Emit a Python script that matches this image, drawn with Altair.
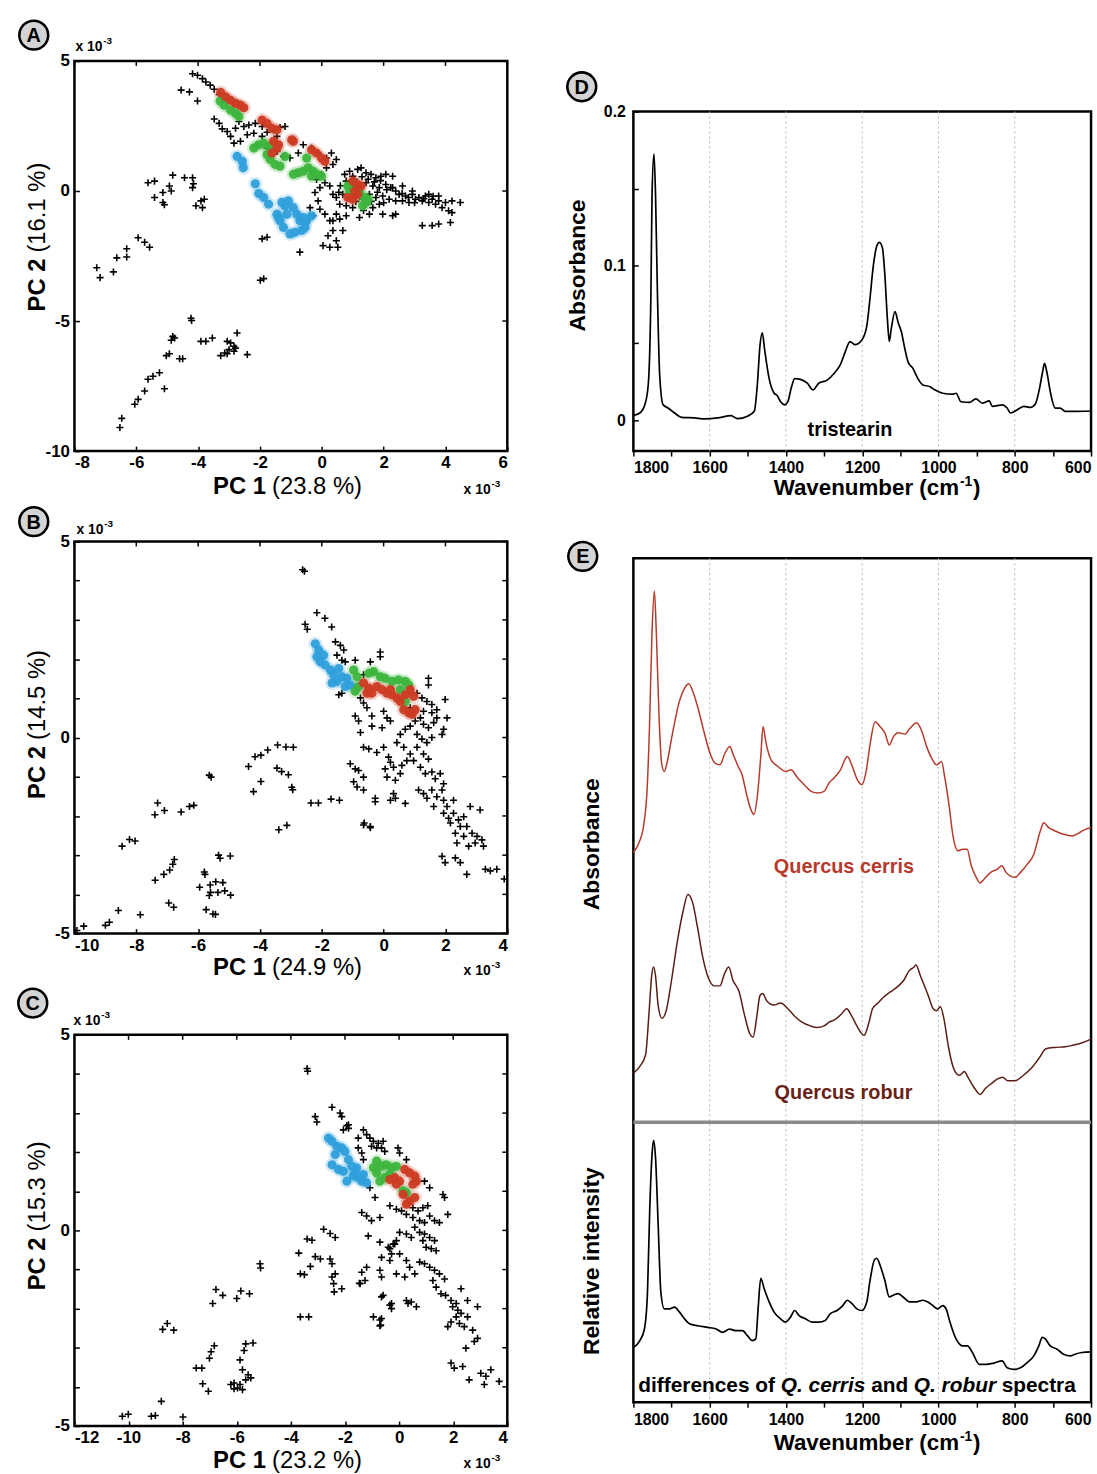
import altair as alt
import pandas as pd

FONT = "Liberation Sans"
RED, GREEN, BLUE = "#cc3b22", "#3cb53c", "#2e9fdb"
CERRIS_COL, ROBUR_COL = "#b53a2c", "#5a1d14"
CROSS = "M-1,0L1,0M0,-1L0,1"

# ---------------- Panel A (PC1 23.8 %, PC2 16.1 %) ----------------
A_BLACK = [
    [-4.18, 4.51], [-4.02, 4.45], [-3.86, 4.32], [-3.75, 4.19], [-3.61, 4.07], [-3.48, 3.91], [-3.32, 3.71],
    [-4.55, 3.88], [-4.28, 3.81], [-4.02, 3.46], [-3.48, 2.77], [-3.32, 2.60], [-3.22, 2.39], [-3.06, 2.29],
    [-2.95, 2.10], [-2.79, 2.41], [-2.68, 2.67], [-2.52, 2.48], [-2.36, 2.54], [-2.15, 2.60], [-1.93, 2.48],
    [-1.77, 2.26], [-1.56, 2.35], [-1.35, 2.44], [-1.19, 2.48], [-1.45, 2.10], [-1.93, 2.10], [-2.20, 2.22],
    [-2.41, 2.16], [-2.84, 1.84], [-2.63, 1.91], [-2.09, 1.78], [-1.77, 1.65], [-1.45, 1.52], [-1.24, 1.33],
    [-1.03, 1.27], [-0.76, 1.46], [-0.60, 1.78], [-0.33, 1.65], [-0.12, 1.46], [0.15, 1.27], [0.31, 1.46],
    [0.47, 1.21], [0.36, 1.02], [0.15, 0.89], [-0.01, 0.64], [-0.17, 0.44], [0.10, 0.32], [0.26, 0.19],
    [-0.06, 0.13], [-0.22, -0.06], [0.36, -0.13],
    [0.74, 0.64], [0.90, 0.76], [1.00, 0.57], [1.16, 0.83], [1.27, 0.89], [1.43, 0.70], [1.59, 0.64],
    [1.75, 0.51], [1.91, 0.57], [2.07, 0.64], [2.29, 0.57], [0.79, 0.38], [1.00, 0.25], [1.22, 0.13],
    [1.43, 0.32], [1.65, 0.19], [1.86, 0.13], [2.07, 0.25], [2.23, 0.13], [2.39, 0.00], [0.68, -0.13],
    [0.90, -0.25], [1.11, -0.13], [1.32, -0.32], [1.54, -0.13], [1.75, -0.25], [1.97, -0.19], [2.18, -0.32],
    [2.39, -0.38], [0.47, -0.25], [0.58, -0.51], [0.79, -0.57], [1.00, -0.64], [1.43, -0.51], [1.65, -0.64],
    [1.86, -0.51], [0.47, -0.89], [0.36, -1.14], [0.58, -1.08], [0.79, -0.95], [1.22, -1.02], [1.54, -0.89],
    [1.97, -0.89], [2.29, -0.95], [1.05, 0.45], [1.30, 0.55], [1.50, 0.45], [1.70, 0.35], [1.90, 0.40],
    [2.10, 0.05], [1.20, -0.05], [0.95, 0.10], [1.60, -0.40], [1.80, -0.05], [2.00, -0.45], [0.60, 0.20],
    [0.55, -0.05], [1.35, -0.75], [1.10, -0.40],
    [2.50, -0.13], [2.71, -0.19], [2.93, -0.13], [3.14, -0.25], [3.35, -0.19], [3.57, -0.32], [3.78, -0.38],
    [4.00, -0.44], [4.21, -0.38], [2.61, -0.38], [2.82, -0.44], [3.03, -0.32], [3.25, -0.38], [3.46, -0.44],
    [3.68, -0.51], [3.89, -0.64], [4.10, -0.76], [4.48, -0.44], [2.39, -0.89], [3.25, -1.33], [3.57, -1.33],
    [3.78, -1.27], [4.16, -1.21], [4.21, -0.83], [2.93, 0.00], [3.46, -0.13], [3.78, -0.19], [2.29, 0.13],
    [2.61, 0.19], [2.60, -0.10], [2.80, -0.25], [3.00, -0.45], [3.30, -0.30], [3.60, -0.20],
    [-0.06, -0.70], [0.10, -0.89], [0.26, -1.14], [0.36, -1.52], [0.20, -1.72], [0.47, -1.91], [0.68, -1.52],
    [0.04, -2.10], [0.26, -2.16], [0.52, -2.16], [-0.71, -1.02], [-0.49, -1.14], [-0.28, -0.95], [-0.38, -0.64],
    [-0.12, -0.38], [-1.77, -1.78], [-1.93, -1.84], [-0.71, -2.35], [-1.99, -3.43], [-1.88, -3.37],
    [-5.62, 0.32], [-5.41, 0.38], [-4.82, 0.61], [-4.93, 0.19], [-5.14, -0.06], [-4.87, 0.00], [-4.44, 0.51],
    [-4.18, 0.51], [-4.18, 0.13], [-4.15, 0.28], [-5.41, -0.25], [-5.14, -0.44], [-5.09, -0.53], [-3.80, -0.32],
    [-4.07, -0.57], [-3.86, -0.64], [-3.91, -0.38],
    [-5.94, -1.80], [-5.73, -1.97], [-5.57, -2.16], [-6.31, -2.22], [-6.31, -2.54], [-6.63, -2.57],
    [-7.28, -2.95], [-7.17, -3.33], [-6.74, -3.11],
    [-4.23, -4.89], [-4.21, -4.98], [-4.82, -5.59], [-4.87, -5.74], [-4.76, -5.65], [-3.91, -5.78],
    [-3.75, -5.78], [-3.54, -5.65], [-3.06, -5.78], [-2.95, -5.84], [-2.84, -5.97], [-2.74, -5.46],
    [-2.79, -6.04], [-3.00, -6.10], [-3.14, -6.23], [-3.27, -6.33], [-3.06, -6.26], [-2.84, -6.16],
    [-2.41, -6.29], [-5.03, -6.33], [-4.93, -6.26], [-4.60, -6.45], [-4.50, -6.45], [-5.25, -6.99],
    [-5.46, -7.12], [-5.62, -7.24], [-5.73, -7.69], [-5.09, -7.60], [-5.94, -8.01], [-6.05, -8.20],
    [-6.47, -8.74], [-6.53, -9.09],
]
A_RED = [
    [-3.27, 3.79], [-3.11, 3.62], [-2.95, 3.49], [-2.79, 3.37], [-2.63, 3.30], [-2.52, 3.20], [-1.93, 2.73],
    [-1.77, 2.60], [-1.61, 2.41], [-1.45, 2.35], [-1.56, 1.91], [-1.45, 1.65], [-1.61, 1.46], [-1.40, 1.78],
    [-0.97, 1.97], [-0.92, 1.91], [-0.33, 1.59], [-0.17, 1.46], [-0.01, 1.27], [0.10, 1.14], [1.00, 0.38],
    [1.16, 0.25], [1.27, 0.19], [0.84, -0.25], [1.00, -0.32], [1.16, -0.13], [1.06, 0.00],
]
A_GREEN = [
    [-3.29, 3.46], [-3.16, 3.30], [-2.95, 3.11], [-2.79, 2.99], [-2.68, 2.86], [-2.20, 1.65], [-2.04, 1.78],
    [-1.88, 1.84], [-1.72, 1.72], [-1.77, 1.40], [-1.67, 1.21], [-1.51, 1.02], [-1.35, 0.95], [-1.19, 1.33],
    [-0.92, 0.64], [-0.76, 0.70], [-0.60, 0.76], [-0.44, 0.89], [-0.28, 0.76], [-0.17, 0.64], [-0.01, 0.57],
    [-0.49, 1.27], [-0.33, 0.57], [0.84, 0.19], [1.00, 0.06], [1.22, -0.06], [1.38, -0.25], [1.43, -0.44],
    [1.32, -0.57], [1.49, -0.32], [0.90, -0.06],
]
A_BLUE = [
    [-2.74, 1.33], [-2.57, 1.14], [-2.54, 0.89], [-2.15, 0.28], [-2.04, -0.10], [-1.88, -0.25], [-1.72, -0.51],
    [-1.45, -0.89], [-1.29, -0.44], [-1.19, -0.57], [-1.08, -0.38], [-0.92, -0.64], [-1.13, -0.89],
    [-1.40, -1.02], [-1.35, -1.14], [-1.24, -1.40], [-1.03, -1.65], [-0.87, -1.59], [-0.65, -1.52],
    [-0.54, -1.40], [-0.49, -1.14], [-0.33, -0.95], [-0.71, -1.14], [-0.81, -0.89], [-0.60, -1.02],
]

# ---------------- Panel B (PC1 24.9 %, PC2 14.5 %) ----------------
B_BLACK = [
    [-2.62, 4.28], [-2.56, 4.24], [-2.16, 3.18], [-1.90, 3.04], [-1.68, 2.82], [-2.54, 2.89], [-2.47, 2.76],
    [-3.43, -0.19], [-3.16, -0.24], [-2.92, -0.25], [-3.75, -0.32], [-3.97, -0.45], [-4.16, -0.49],
    [-4.37, -0.74], [-3.45, -0.78], [-3.30, -0.87], [-3.08, -0.95], [-3.97, -1.12], [-4.21, -1.38],
    [-2.97, -1.27], [-2.94, -1.33], [-5.64, -0.96], [-5.58, -1.01], [-2.35, -1.67], [-2.11, -1.67],
    [-1.70, -1.57], [-1.43, -1.60], [-3.39, -2.35], [-3.13, -2.24], [-0.63, -2.18], [-0.43, -2.30],
    [-7.31, -1.67], [-7.40, -1.97], [-7.09, -1.86], [-6.55, -1.90], [-6.28, -1.76], [-6.14, -1.73],
    [-8.22, -2.60], [-8.46, -2.77], [-8.04, -2.64], [-7.39, -3.64], [-7.11, -3.49], [-6.92, -3.38],
    [-6.82, -3.23], [-6.77, -3.11], [-5.34, -3.00], [-5.29, -3.08], [-4.96, -3.02], [-5.80, -3.43],
    [-5.78, -3.49], [-5.95, -3.82], [-5.61, -3.76], [-5.43, -3.68], [-5.20, -3.70], [-5.60, -3.95],
    [-5.64, -4.03], [-5.36, -3.95], [-5.14, -3.91], [-4.95, -4.02], [-5.74, -4.39], [-5.52, -4.50],
    [-5.44, -4.51], [-6.95, -4.22], [-6.79, -4.33], [-8.58, -4.41], [-7.87, -4.52], [-9.00, -4.79],
    [-8.87, -4.71], [-9.70, -4.81], [-9.92, -4.92],
    [-1.56, 2.44], [-1.40, 2.35], [-1.29, 2.23], [-1.51, 2.10], [-1.35, 1.97], [-1.24, 1.93], [-0.92, 1.97],
    [-0.43, 1.93], [-0.11, 2.18], [-0.11, 2.06], [-0.38, 1.68], [-0.65, 1.60], [-1.45, 1.09], [-1.35, 1.13],
    [-0.75, 1.01], [-0.65, 0.88], [-0.54, 0.76], [-0.92, 0.55], [-0.81, 0.42], [-0.75, 0.13], [-0.38, 0.55],
    [-0.38, 0.29], [0.00, 0.67], [0.11, 0.50], [0.22, 0.42], [-0.05, 0.25], [1.45, 1.51], [1.45, 1.34],
    [1.08, 1.13], [1.24, 1.01], [1.40, 0.92], [1.56, 0.84], [1.72, 0.71], [1.99, 0.97], [2.05, 0.50],
    [1.94, 0.21], [1.89, 0.08], [0.54, 0.08], [0.70, 0.21], [0.86, 0.29], [1.02, 0.42], [1.19, 0.50],
    [1.29, 0.34], [1.45, 0.25], [1.62, 0.38], [1.08, 0.08], [1.24, -0.04], [1.40, -0.13], [1.56, 0.00],
    [0.43, -0.13], [0.65, -0.25], [0.86, -0.42], [1.08, -0.25], [1.29, -0.42], [1.45, -0.55], [0.97, -0.59],
    [1.19, -0.76], [1.35, -0.92], [1.56, -0.88], [1.67, -1.05], [1.83, -0.92], [1.94, -1.18], [1.89, -1.34],
    [-0.65, -0.25], [-0.48, -0.29], [-0.22, -0.38], [0.00, -0.25], [0.16, -0.50], [0.22, -0.63],
    [0.32, -0.76], [0.05, -0.80], [0.11, -1.01], [0.38, -1.09], [0.54, -0.92], [0.59, -0.71], [0.75, -0.59],
    [0.32, -1.43], [0.38, -1.55], [0.22, -1.60], [0.70, -1.68], [-1.08, -0.67], [-0.92, -0.80],
    [-0.81, -0.84], [-0.65, -1.01], [-0.97, -1.13], [-0.86, -1.26], [-0.65, -1.34], [-0.27, -1.55],
    [-0.27, -1.64], [-0.65, -2.23], [-0.43, -2.27], [1.13, -1.34], [1.29, -1.43], [1.56, -1.34],
    [1.40, -1.55], [1.62, -1.76], [1.72, -1.51], [1.94, -1.60], [2.05, -1.76], [2.26, -1.60], [1.94, -1.93],
    [2.10, -2.06], [2.26, -1.93], [2.42, -2.10], [2.59, -2.02], [2.48, -2.27], [2.69, -2.27], [2.80, -1.76],
    [3.12, -1.85], [2.86, -2.44], [3.02, -2.52], [3.18, -2.61], [3.23, -2.77], [2.96, -2.69], [2.37, -2.69],
    [1.89, -3.03], [1.99, -3.19], [2.32, -3.07], [2.48, -3.19], [2.69, -3.49], [3.29, -3.36], [3.45, -3.40],
    [3.66, -3.36], [3.90, -3.61], [2.16, -2.18], [2.32, -2.44], [2.59, -2.52], [2.75, -2.77], [0.97, 0.63],
    [0.86, 0.76], [1.29, 0.67], [1.56, 0.63], [1.72, 0.50],
]
B_RED = [
    [-0.65, 1.39], [-0.48, 1.26], [-0.38, 1.13], [-0.22, 1.30], [-0.05, 1.22], [0.11, 1.13], [0.27, 1.09],
    [0.43, 1.01], [0.54, 0.92], [0.70, 1.09], [0.86, 1.22], [0.97, 1.05], [0.65, 0.71], [0.81, 0.63],
    [1.02, 0.71], [0.92, 0.59], [-0.54, 1.13], [0.22, 1.22],
]
B_GREEN = [
    [-0.97, 1.72], [-0.86, 1.55], [-0.92, 1.18], [-0.81, 1.30], [-0.48, 1.64], [-0.32, 1.68], [-0.11, 1.55],
    [0.05, 1.51], [0.27, 1.43], [0.48, 1.47], [0.70, 1.43], [0.81, 1.34], [0.70, 0.92], [0.54, 1.22],
]
B_BLUE = [
    [-2.21, 2.39], [-2.10, 2.23], [-2.16, 2.06], [-2.05, 1.93], [-1.89, 1.85], [-1.72, 1.72], [-1.62, 1.60],
    [-1.45, 1.76], [-1.35, 1.55], [-1.51, 1.43], [-1.67, 1.39], [-1.19, 1.51], [-1.08, 1.34], [-1.24, 1.30],
    [-1.94, 2.10],
]

# ---------------- Panel C (PC1 23.2 %, PC2 15.3 %) ----------------
C_BLACK = [
    [-3.40, 4.14], [-3.38, 4.07], [-2.48, 3.15], [-2.18, 3.00], [-2.12, 2.91], [-3.10, 2.91], [-3.04, 2.77],
    [-1.87, 2.61], [-1.93, 2.68], [-2.79, 0.03], [-2.55, -0.08], [-2.36, -0.18], [-3.22, -0.25],
    [-3.40, -0.22], [-3.71, -0.58], [-3.10, -0.67], [-2.91, -0.73], [-3.28, -0.92], [-2.55, -0.73],
    [-2.48, -0.85], [-2.36, -1.11], [-2.48, -1.19], [-2.42, -1.36], [-2.12, -1.49], [-2.40, -1.57],
    [-3.65, -1.11], [-3.50, -1.13], [-5.14, -0.85], [-5.12, -0.96], [-3.65, -2.21], [-3.34, -2.21],
    [-1.20, -0.94], [-1.38, -1.07], [-1.47, -1.35], [-1.26, -1.28], [-0.71, -1.02], [-0.65, -1.19],
    [-0.59, -1.66], [-0.28, -1.87], [-0.95, -2.21], [-0.65, -2.25], [-0.68, -2.42], [-6.77, -1.51],
    [-6.52, -1.66], [-6.89, -1.87], [-5.85, -1.55], [-5.53, -1.62], [-6.00, -1.74], [-8.57, -2.38],
    [-8.74, -2.53], [-8.33, -2.55], [-5.67, -2.90], [-5.73, -3.07], [-5.40, -2.88], [-6.83, -2.95],
    [-6.95, -3.10], [-7.01, -3.27], [-7.50, -3.52], [-7.29, -3.52], [-7.26, -3.92], [-7.05, -4.11],
    [-5.88, -3.31], [-5.79, -3.56], [-5.58, -3.69], [-5.67, -3.82], [-5.48, -3.77], [-6.10, -3.90],
    [-5.97, -4.03], [-5.88, -3.94], [-5.79, -4.07], [-6.10, -4.05], [-6.22, -3.94], [-8.79, -4.37],
    [-7.99, -4.77], [-9.16, -4.75], [-9.01, -4.73], [-10.23, -4.75], [-10.01, -4.70],
    [-2.06, 2.57], [-1.87, 2.70], [-1.51, 2.36], [-1.32, 2.57], [-1.20, 2.45], [-1.08, 2.36], [-0.95, 2.28],
    [-0.77, 2.23], [-0.59, 2.28], [-1.02, 2.15], [-0.83, 2.11], [-0.65, 2.11], [-0.53, 2.02], [-1.51, 2.11],
    [-1.38, 1.98], [-0.04, 2.11], [0.02, 1.98], [0.27, 1.81], [-1.32, 1.81], [-1.08, 1.09], [-0.89, 0.84],
    [-1.38, 0.46], [-1.20, 0.37], [-1.02, 0.25], [-0.71, 0.33], [-0.34, 0.63], [-0.10, 0.54], [0.09, 0.50],
    [0.27, 0.41], [0.51, 0.58], [0.70, 0.50], [0.88, 0.58], [1.06, 0.63], [0.94, 1.26], [1.13, 1.09],
    [1.62, 0.92], [1.80, 0.41], [0.51, 0.33], [0.76, 0.25], [0.94, 0.20], [1.13, 0.37], [1.31, 0.25],
    [1.49, 0.20], [0.58, 0.08], [0.76, -0.05], [0.94, -0.09], [1.13, -0.18], [1.31, -0.26], [0.88, -0.26],
    [1.00, -0.43], [1.19, -0.47], [1.37, -0.52], [0.45, -0.18], [0.27, -0.09], [0.02, -0.05], [-0.10, -0.26],
    [-0.22, -0.35], [-0.34, -0.47], [0.02, -0.60], [0.27, -0.77], [0.39, -0.94], [0.58, -1.11], [0.76, -0.81],
    [0.94, -0.85], [1.13, -0.94], [1.31, -1.02], [1.49, -1.11], [1.68, -1.24], [1.25, -1.28], [1.37, -1.45],
    [1.55, -1.62], [1.72, -1.66], [1.92, -1.79], [2.11, -1.87], [1.98, -1.95], [2.17, -2.04], [2.29, -2.12],
    [2.11, -2.21], [1.92, -2.34], [1.80, -2.46], [2.23, -2.38], [2.41, -2.46], [2.53, -2.21], [2.72, -2.55],
    [2.90, -2.76], [2.78, -2.84], [2.47, -3.01], [2.53, -1.79], [2.90, -1.95], [2.29, -1.49], [1.92, -3.39],
    [2.04, -3.52], [2.35, -3.48], [2.59, -3.82], [3.02, -3.65], [3.21, -3.73], [3.15, -3.94], [3.39, -3.56],
    [3.70, -3.86], [1.68, 0.84], [-0.71, -0.30], [-0.40, -0.43], [-0.28, -0.60], [-0.16, -0.35],
    [-0.65, -0.69], [-0.34, -0.77], [-0.10, -1.11], [0.21, -1.19], [0.27, -1.79], [0.45, -1.83],
    [0.64, -1.95], [0.33, -1.87], [-0.65, -1.70], [-0.34, -1.91], [-0.28, -2.00], [-0.71, -2.29],
    [-0.71, -2.44], [-1.14, -0.14], [-1.44, -1.36],
]
C_RED = [
    [0.21, 1.56], [0.39, 1.47], [0.58, 1.39], [0.64, 1.26], [0.51, 1.18], [0.02, 1.26], [-0.16, 1.35],
    [-0.10, 1.18], [-0.34, 1.30], [0.15, 0.92], [0.39, 0.75], [0.58, 0.84], [0.27, 0.67],
]
C_GREEN = [
    [-0.83, 1.77], [-0.65, 1.64], [-0.47, 1.68], [-0.28, 1.60], [-0.10, 1.64], [-0.83, 1.47], [-0.71, 1.26],
    [-0.53, 1.35], [-0.34, 1.43], [-0.95, 1.60], [0.15, 1.01], [0.27, 0.96],
]
C_BLUE = [
    [-2.61, 2.36], [-2.48, 2.28], [-2.30, 2.15], [-2.12, 2.11], [-2.00, 2.02], [-2.36, 1.94], [-2.48, 1.68],
    [-2.24, 1.56], [-2.06, 1.51], [-1.87, 1.81], [-1.75, 1.64], [-1.63, 1.47], [-1.51, 1.35], [-1.69, 1.39],
    [-1.32, 1.43], [-1.20, 1.22], [-1.38, 1.26], [-1.93, 1.26], [-1.57, 1.60],
]

# ---------------- Panel D: tristearin spectrum (wavenumber, absorbance) ----------------
D_SPEC = [
    (1800, 0.0032), (1783, 0.0047), (1770, 0.010), (1761, 0.023), (1754, 0.083), (1751, 0.147),
    (1746, 0.1726), (1742, 0.147), (1737, 0.083), (1731, 0.029), (1722, 0.010), (1709, 0.0079),
    (1692, 0.0047), (1674, 0.0019), (1640, 0.0015), (1613, 0.0009), (1579, 0.0015), (1544, 0.003),
    (1527, 0.001), (1501, 0.0026), (1483, 0.0058), (1475, 0.023), (1468, 0.0486), (1462, 0.0567),
    (1456, 0.046), (1444, 0.027), (1431, 0.0175), (1423, 0.016), (1414, 0.012), (1403, 0.010),
    (1395, 0.012), (1386, 0.021), (1377, 0.027), (1362, 0.0265), (1344, 0.024), (1329, 0.0197),
    (1314, 0.024), (1292, 0.026), (1275, 0.030), (1258, 0.0357), (1245, 0.044), (1232, 0.051),
    (1219, 0.049), (1201, 0.052), (1188, 0.061), (1180, 0.078), (1171, 0.0999), (1162, 0.1127),
    (1155, 0.1153), (1147, 0.1117), (1141, 0.0956), (1134, 0.0657), (1129, 0.0511), (1124, 0.059),
    (1114, 0.0704), (1106, 0.0635), (1097, 0.057), (1088, 0.046), (1080, 0.038), (1067, 0.0336),
    (1054, 0.027), (1041, 0.0229), (1023, 0.0218), (1010, 0.0197), (989, 0.0175), (963, 0.0169),
    (954, 0.0175), (941, 0.012), (919, 0.0116), (902, 0.0139), (885, 0.011), (867, 0.0126), (859, 0.009),
    (832, 0.010), (820, 0.0079), (811, 0.0047), (789, 0.0075), (776, 0.009), (759, 0.0083), (746, 0.0105),
    (735, 0.0207), (727, 0.0314), (722, 0.0368), (716, 0.0314), (707, 0.0186), (694, 0.0079),
    (681, 0.0079), (668, 0.0058), (642, 0.0058), (600, 0.006),
]

# ---------------- Panel E: spectra in arbitrary units ----------------
E_CERRIS = [
    (1800, 81.5), (1785, 84.5), (1772, 90.5), (1764, 100.5), (1758, 118.5), (1751, 148.5), (1745, 160.5),
    (1740, 148.5), (1733, 123.5), (1726, 108.5), (1719, 106), (1712, 108.5), (1699, 116.5), (1681, 126.5),
    (1664, 131.5), (1655, 132.5), (1642, 129.5), (1629, 124.5), (1616, 118.5), (1599, 111.5), (1586, 108.5),
    (1573, 108), (1560, 111.5), (1547, 113.5), (1538, 111), (1525, 107.5), (1515, 105), (1504, 99.5),
    (1492, 94.5), (1484, 93), (1475, 98.5), (1466, 110.5), (1460, 119.5), (1452, 114.5), (1439, 109.5),
    (1421, 107.5), (1400, 106), (1387, 106.5), (1369, 104), (1352, 102), (1334, 100), (1317, 99.5),
    (1300, 100), (1287, 102.5), (1274, 104), (1257, 106.5), (1239, 110.5), (1226, 107.5), (1213, 103.5),
    (1201, 102), (1189, 106.5), (1179, 114.5), (1166, 121), (1153, 119.5), (1140, 117.5), (1129, 114),
    (1118, 116.5), (1105, 117.7), (1088, 117.3), (1075, 119), (1057, 120.7), (1045, 118.5), (1031, 113.5),
    (1018, 110), (1005, 108), (992, 109), (984, 104.5), (972, 95.5), (962, 86.5), (949, 82), (936, 82.5),
    (925, 82.5), (914, 77.5), (901, 74), (891, 72.3), (880, 73.5), (863, 75.5), (845, 76.5), (834, 77.5),
    (823, 75.5), (810, 74.3), (799, 74), (785, 75.5), (767, 78), (750, 81), (733, 88), (724, 90.5),
    (711, 89), (694, 88), (672, 87), (650, 86.5), (633, 87.3), (615, 88.5), (600, 89),
]
E_ROBUR = [
    (1800, 14.8), (1783, 16.9), (1768, 20.4), (1759, 33.0), (1752, 44.3), (1747, 46.9), (1742, 44.3),
    (1735, 35.2), (1725, 31.4), (1714, 33.7), (1700, 42.9), (1685, 54.4), (1670, 63.6), (1657, 68.8),
    (1645, 66.5), (1632, 59.0), (1618, 49.8), (1605, 44.1), (1588, 41.2), (1573, 41.2), (1562, 44.6),
    (1550, 46.9), (1539, 42.9), (1523, 39.5), (1509, 32.6), (1495, 26.8), (1486, 25.7), (1477, 31.4),
    (1468, 38.3), (1461, 38.9), (1450, 36.6), (1432, 35.4), (1414, 36.0), (1395, 34.3), (1377, 32.0),
    (1359, 30.3), (1336, 29.1), (1318, 28.6), (1300, 29.1), (1286, 30.3), (1273, 30.9), (1255, 32.6),
    (1241, 34.3), (1227, 32.0), (1214, 29.1), (1195, 26.3), (1182, 30.3), (1173, 34.3), (1159, 36.0),
    (1145, 37.7), (1132, 38.9), (1118, 40.0), (1105, 41.2), (1091, 42.9), (1077, 45.8), (1064, 46.9),
    (1059, 47.5), (1047, 44.1), (1027, 38.3), (1014, 34.3), (1005, 33.7), (995, 34.9), (986, 31.4),
    (973, 22.2), (959, 15.9), (945, 14.2), (932, 15.3), (923, 13.6), (905, 10.2), (891, 8.4), (877, 10.2),
    (859, 11.9), (845, 13.1), (832, 13.6), (818, 12.5), (800, 12.5), (777, 14.2), (755, 16.5), (736, 19.4),
    (718, 22.2), (695, 22.6), (668, 22.8), (650, 23.2), (623, 24.0), (600, 25.1),
]
E_DIFF = [
    (1800, 16.5), (1783, 18.6), (1771, 22.1), (1763, 33.3), (1757, 58.7), (1751, 75.0), (1747, 79.1),
    (1742, 74.0), (1735, 53.6), (1728, 33.3), (1719, 28.2), (1705, 28.2), (1692, 28.7), (1679, 27.2),
    (1666, 25.2), (1653, 23.7), (1631, 23.1), (1605, 22.6), (1583, 22.1), (1566, 21.1), (1548, 22.1),
    (1531, 21.6), (1514, 21.6), (1501, 20.1), (1488, 18.6), (1479, 19.1), (1473, 28.2), (1466, 37.4),
    (1457, 34.3), (1444, 30.3), (1431, 27.2), (1414, 25.2), (1401, 24.2), (1388, 25.7), (1377, 27.7),
    (1366, 26.2), (1349, 25.2), (1331, 24.2), (1314, 24.2), (1297, 24.7), (1284, 26.7), (1266, 27.7),
    (1251, 29.2), (1239, 30.8), (1227, 29.8), (1214, 28.2), (1201, 27.7), (1188, 30.3), (1180, 36.4),
    (1168, 43.0), (1162, 43.5), (1152, 41.0), (1141, 36.9), (1129, 31.8), (1119, 32.3), (1106, 32.8),
    (1093, 31.8), (1075, 30.3), (1058, 30.3), (1041, 30.8), (1028, 30.3), (1015, 29.2), (1002, 28.2),
    (989, 29.2), (980, 28.2), (970, 24.2), (954, 19.1), (937, 17.0), (924, 17.0), (911, 15.0), (893, 11.4),
    (876, 11.4), (855, 11.8), (833, 12.5), (820, 10.4), (802, 9.9), (785, 10.4), (767, 12.0), (750, 14.0),
    (737, 17.0), (728, 19.6), (720, 19.1), (707, 17.0), (689, 16.0), (672, 14.5), (654, 14.0), (642, 14.5),
    (624, 15.0), (600, 15.2),
]
E_OFFSET = 84.6          # vertical offset of the two oak spectra above the difference spectrum
GRID_WN = [1600, 1400, 1200, 1000, 800]
WN_TICKS = list(range(600, 1801, 100))

ONE = pd.DataFrame({"k": [0]})


def txt(s, x, y, size=14, weight="bold", style="normal", align="left",
        baseline="alphabetic", angle=0, color="black"):
    kw = dict(text=s, font=FONT, fontSize=size, fontWeight=weight, fontStyle=style,
              align=align, baseline=baseline, color=color)
    if angle:
        kw["angle"] = angle
    return alt.Chart(ONE).mark_text(**kw).encode(x=alt.value(x), y=alt.value(y))


def pin(W, H, L, R, T, B):
    # invisible diagonal that fixes the outer bounds of each panel
    return alt.Chart(ONE).mark_rule(opacity=0, strokeWidth=1).encode(
        x=alt.value(-L), x2=alt.value(W + R), y=alt.value(-T), y2=alt.value(H + B))


def spacer(W):
    return alt.Chart(ONE).mark_rule(opacity=0).encode(
        x=alt.value(0), x2=alt.value(W), y=alt.value(0)).properties(
        width=W, height=1, view=alt.ViewBackground(strokeWidth=0, strokeOpacity=0))


def badge(letter, x, y):
    outer = alt.Chart(ONE).mark_circle(size=1000, color="black", opacity=1).encode(
        x=alt.value(x), y=alt.value(y))
    inner = alt.Chart(ONE).mark_circle(size=700, color="#d4d4d4", opacity=1).encode(
        x=alt.value(x), y=alt.value(y))
    return [outer, inner, txt(letter, x, y + 1, size=20, align="center", baseline="middle")]


def scatter(black, red, green, blue, xdom, ydom, xt, yt, W, H, pins, bxy, letter,
            pc1, pc2, top_base, br_base, ygap, x10_left, lab_pad=4):
    L, R, T, B = pins
    common = dict(domain=False, grid=False, tickColor="black", tickWidth=1.5, tickSize=5, offset=-5,
                  labelFont=FONT, labelFontSize=17, labelFontWeight="bold", labelColor="black",
                  labelOverlap=False, title=None)
    X = alt.X("x:Q", scale=alt.Scale(domain=xdom, nice=False, zero=False),
              axis=alt.Axis(values=xt, labelExpr="toString(datum.value)", labelPadding=lab_pad, **common))
    Y = alt.Y("y:Q", scale=alt.Scale(domain=ydom, nice=False, zero=False),
              axis=alt.Axis(values=yt, labelExpr="datum.value % 5 == 0 ? toString(datum.value) : ''",
                            labelPadding=5, **common))

    def df(d):
        return pd.DataFrame(d, columns=["x", "y"])

    layers = [pin(W, H, L, R, T, B)]
    layers.append(alt.Chart(df(black)).mark_point(shape=CROSS, size=50, filled=False, color="black",
                                                  strokeWidth=1.6, opacity=1).encode(x=X, y=Y))
    groups = ((blue, BLUE), (green, GREEN), (red, RED))
    for d, c in groups:
        layers.append(alt.Chart(df(d)).mark_circle(size=200, color=c, opacity=0.2).encode(x=X, y=Y))
    for d, c in groups:
        layers.append(alt.Chart(df(d)).mark_circle(size=85, color=c, opacity=0.95).encode(x=X, y=Y))
    layers.append(alt.Chart(pd.DataFrame({"x": xt})).mark_rule(color="black", strokeWidth=1.5).encode(
        x=X, y=alt.value(0), y2=alt.value(5)))
    layers.append(alt.Chart(pd.DataFrame({"y": yt})).mark_rule(color="black", strokeWidth=1.5).encode(
        y=Y, x=alt.value(W - 5), x2=alt.value(W)))
    layers += badge(letter, *bxy)
    layers.append(txt("x 10", x10_left, top_base, size=14))
    layers.append(txt("-3", x10_left + 28, top_base - 7, size=10))
    layers.append(txt("x 10", 392, br_base, size=14))
    layers.append(txt("-3", 420, br_base - 7, size=10))
    layers.append(txt("PC 1", 193, br_base, size=24, align="right"))
    layers.append(txt(pc1, 199, br_base, size=24, weight="normal"))
    layers.append(txt("PC 2", -37, ygap + 3, size=24, align="right", baseline="middle", angle=270))
    layers.append(txt(pc2, -37, ygap - 3, size=24, weight="normal", align="left", baseline="middle", angle=270))
    return alt.layer(*layers).properties(width=W, height=H)


A = scatter(A_BLACK, A_RED, A_GREEN, A_BLUE, [-8, 6], [-10, 5], list(range(-8, 7, 2)), [-10, -5, 0, 5],
            436, 393, (73, 51, 53, 49), (-41, -26), "A", "(23.8 %)", "(16.1 %)", -10, 436, 196, 1)
B = scatter(B_BLACK, B_RED, B_GREEN, B_BLUE, [-10, 4], [-5, 5], list(range(-10, 5, 2)), list(range(-5, 6)),
            436, 395, (73, 51, 38, 48), (-41, -20), "B", "(24.9 %)", "(14.5 %)", -8, 437, 203, 2)
C = scatter(C_BLACK, C_RED, C_GREEN, C_BLUE, [-12, 4], [-5, 5], list(range(-12, 5, 2)), list(range(-5, 6)),
            436, 394, (73, 51, 50, 47), (-42, -32), "C", "(23.2 %)", "(15.3 %)", -10, 436, 201, -1)

# ---------------- spectra panels ----------------
xaxis = alt.Axis(values=WN_TICKS, labelExpr="datum.value % 200 == 0 ? toString(datum.value) : ''",
                 tickSize=5, tickWidth=1.5, tickColor="black", domain=False, grid=False,
                 labelFont=FONT, labelFontSize=16, labelFontWeight="bold", labelColor="black",
                 labelPadding=4, labelOverlap=False, title=None)
XS = alt.X("wn:Q", scale=alt.Scale(domain=[600, 1800], reverse=True, nice=False, zero=False), axis=xaxis)


def wn_title(base):
    return [txt("Wavenumber (cm", 328, base, size=22.5, align="right"),
            txt("-1", 329, base - 9, size=14),
            txt(")", 342, base, size=22.5)]


WD, HD = 461, 342
YD = alt.Y("a:Q", scale=alt.Scale(domain=[-0.02, 0.2], nice=False, zero=False),
           axis=alt.Axis(values=[0, 0.05, 0.1, 0.15, 0.2], format=".2~f",
                         labelExpr="(datum.label == '0' || datum.label == '0.1' || datum.label == '0.2') ? datum.label : ''",
                         offset=-5, tickSize=5, tickWidth=1.5, tickColor="black", domain=False, grid=False,
                         labelFont=FONT, labelFontSize=16, labelFontWeight="bold", labelColor="black",
                         labelPadding=8, labelOverlap=False, title=None))
d_df = pd.DataFrame(D_SPEC, columns=["wn", "a"])
D_layers = [
    pin(WD, HD, 72, 4, 104, 57),
    alt.Chart(pd.DataFrame({"wn": GRID_WN})).mark_rule(color="#b8b8b8", strokeWidth=1, strokeDash=[2, 3]).encode(
        x=XS, y=alt.value(0), y2=alt.value(HD)),
    alt.Chart(d_df).mark_line(color="black", strokeWidth=1.7, interpolate="monotone").encode(x=XS, y=YD),
    alt.Chart(pd.DataFrame({"wn": [1232], "a": [-0.0065], "t": ["tristearin"]})).mark_text(
        font=FONT, fontSize=20, fontWeight="bold", color="black", baseline="middle").encode(x=XS, y=YD, text="t:N"),
    txt("Absorbance", -56, 155, size=23, align="center", baseline="middle", angle=270),
] + badge("D", -52, -25) + wn_title(386)
D = alt.layer(*D_layers).properties(width=WD, height=HD)

WE, HE = 461, 850
YE = alt.Y("v:Q", scale=alt.Scale(domain=[0, 255], nice=False, zero=False), axis=None)
cer = pd.DataFrame(E_CERRIS, columns=["wn", "v"]); cer["v"] = cer["v"] + E_OFFSET
rob = pd.DataFrame(E_ROBUR, columns=["wn", "v"]); rob["v"] = rob["v"] + E_OFFSET
dif = pd.DataFrame(E_DIFF, columns=["wn", "v"])
E_layers = [
    pin(WE, HE, 72, 4, 47, 67),
    alt.Chart(pd.DataFrame({"wn": GRID_WN})).mark_rule(color="#b8b8b8", strokeWidth=1, strokeDash=[2, 3]).encode(
        x=XS, y=alt.value(0), y2=alt.value(HE)),
    alt.Chart(pd.DataFrame({"v": [E_OFFSET]})).mark_rule(color="#8a8a8a", strokeWidth=3.5).encode(
        y=YE, x=alt.value(0), x2=alt.value(WE)),
    alt.Chart(cer).mark_line(color=CERRIS_COL, strokeWidth=1.5, interpolate="monotone").encode(x=XS, y=YE),
    alt.Chart(rob).mark_line(color=ROBUR_COL, strokeWidth=1.5, interpolate="monotone").encode(x=XS, y=YE),
    alt.Chart(dif).mark_line(color="black", strokeWidth=1.7, interpolate="monotone").encode(x=XS, y=YE),
    alt.Chart(pd.DataFrame({"wn": [1248], "v": [77 + E_OFFSET], "t": ["Quercus cerris"]})).mark_text(
        font=FONT, fontSize=20, fontWeight="bold", color="#b8392c", baseline="middle").encode(x=XS, y=YE, text="t:N"),
    alt.Chart(pd.DataFrame({"wn": [1249], "v": [8.7 + E_OFFSET], "t": ["Quercus robur"]})).mark_text(
        font=FONT, fontSize=20, fontWeight="bold", color="#6a1f17", baseline="middle").encode(x=XS, y=YE, text="t:N"),
    alt.Chart(pd.DataFrame({"v": [168.6]})).mark_text(
        text="Absorbance", font=FONT, fontSize=23, fontWeight="bold", angle=270, baseline="middle",
        align="center", color="black").encode(x=alt.value(-42), y=YE),
    alt.Chart(pd.DataFrame({"v": [42.6]})).mark_text(
        text="Relative intensity", font=FONT, fontSize=23, fontWeight="bold", angle=270, baseline="middle",
        align="center", color="black").encode(x=alt.value(-42), y=YE),
    txt("differences of", 5, 834, size=21, baseline="middle"),
    txt("Q. cerris", 148.5, 834, size=21, style="italic", baseline="middle"),
    txt("and", 239.5, 834, size=21, baseline="middle"),
    txt("Q. robur", 282.5, 834, size=21, style="italic", baseline="middle"),
    txt("spectra", 371, 834, size=21, baseline="middle"),
] + badge("E", -51, -2) + wn_title(898)
E = alt.layer(*E_layers).properties(width=WE, height=HE)

left = alt.vconcat(spacer(436), A, B, C, spacing=0)
right = alt.vconcat(spacer(461), D, E, spacing=0)
chart = alt.hconcat(left, right, spacing=0, padding=0, background="white").configure_view(
    stroke="black", strokeWidth=2.5)

chart.save("out.html", embed_options={"renderer": "svg", "actions": False})
